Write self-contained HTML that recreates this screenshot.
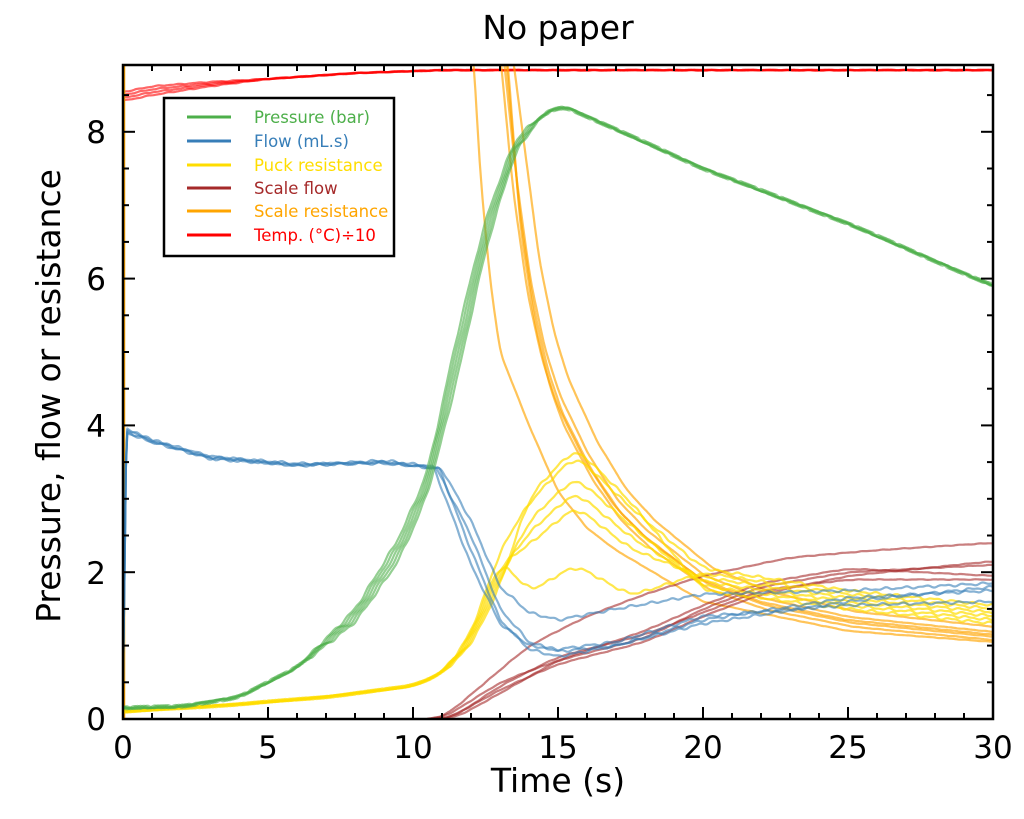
<!DOCTYPE html>
<html><head><meta charset="utf-8"><style>
html,body{margin:0;padding:0;background:#fff;width:1024px;height:819px;overflow:hidden}
svg{display:block;font-family:"DejaVu Sans","Liberation Sans",sans-serif}
</style></head><body>
<svg id="s" width="1024" height="819" viewBox="0 0 1024 819" xmlns="http://www.w3.org/2000/svg">
<defs><clipPath id="c"><rect x="123" y="65" width="870" height="654"/></clipPath></defs>
<text x="558" y="39" font-size="33" text-anchor="middle">No paper</text>
<g id="plot" clip-path="url(#c)" fill="none" stroke-width="2.2" stroke-linejoin="round"></g>
<rect x="123" y="65" width="870" height="654" fill="none" stroke="#000" stroke-width="2.5"/>
<g id="ticks" stroke="#000" stroke-width="2"></g>
<g font-size="31" text-anchor="middle">
<text x="123" y="758">0</text><text x="268" y="758">5</text><text x="413" y="758">10</text><text x="558" y="758">15</text><text x="703" y="758">20</text><text x="848" y="758">25</text><text x="993" y="758">30</text>
</g>
<g font-size="31" text-anchor="end">
<text x="106" y="730">0</text><text x="106" y="584">2</text><text x="106" y="437">4</text><text x="106" y="290">6</text><text x="106" y="143">8</text>
</g>
<text x="558" y="792" font-size="33" text-anchor="middle">Time (s)</text>
<text transform="translate(60,396) rotate(-90)" font-size="33" text-anchor="middle">Pressure, flow or resistance</text>
<rect x="164" y="98" width="230" height="158" fill="#fff" stroke="#000" stroke-width="2.5"/>
<g stroke-width="3">
<line x1="187" y1="117" x2="231" y2="117" stroke="#4daf4a"/>
<line x1="187" y1="141" x2="231" y2="141" stroke="#377eb8"/>
<line x1="187" y1="165" x2="231" y2="165" stroke="#ffdd00"/>
<line x1="187" y1="188" x2="231" y2="188" stroke="#a52a2a"/>
<line x1="187" y1="211" x2="231" y2="211" stroke="#ffa500"/>
<line x1="187" y1="235" x2="231" y2="235" stroke="#ff0000"/>
</g>
<g font-size="16.5">
<text x="254" y="123" fill="#4daf4a">Pressure (bar)</text>
<text x="254" y="147" fill="#377eb8">Flow (mL.s)</text>
<text x="254" y="171" fill="#ffdd00">Puck resistance</text>
<text x="254" y="194" fill="#a52a2a">Scale flow</text>
<text x="254" y="217" fill="#ffa500">Scale resistance</text>
<text x="254" y="241" fill="#ff0000">Temp. (°C)÷10</text>
</g>
</svg>
<script>
function X(t){return 123+t*29}function Y(v){return 719-v*73.4}
var tk=document.getElementById("ticks"),h="";
for(var i=0;i<=30;i++){var L=i%5?6:12;h+='<line x1="'+X(i)+'" y1="719" x2="'+X(i)+'" y2="'+(719-L)+'"/><line x1="'+X(i)+'" y1="65" x2="'+X(i)+'" y2="'+(65+L)+'"/>';}
for(var v=0;v<=8.9;v+=0.5){var L=(v%2)?6:12;h+='<line x1="123" y1="'+Y(v)+'" x2="'+(123+L)+'" y2="'+Y(v)+'"/><line x1="993" y1="'+Y(v)+'" x2="'+(993-L)+'" y2="'+Y(v)+'"/>';}
tk.innerHTML=h;
function lin(p,t){if(t<=p[0][0])return p[0][1];for(var i=1;i<p.length;i++){if(t<=p[i][0]){var a=p[i-1],b=p[i],f=(t-a[0])/(b[0]-a[0]);return a[1]+(b[1]-a[1])*f;}}return p[p.length-1][1];}
var g=document.getElementById("plot"),out="";
function draw(pts,col,op,t0,t1,noise,seed,win){var dt=0.05;win=win||8;var ts=[],vs=[];for(var t=t0;t<=t1+1e-9;t+=dt){ts.push(t);vs.push(lin(pts,t));}
var sm=[];for(var i=0;i<vs.length;i++){var s=0,n=0;for(var j=-win;j<=win;j++){var k=Math.min(vs.length-1,Math.max(0,i+j));var w=win+1-Math.abs(j);s+=vs[k]*w;n+=w;}sm.push(s/n);}
var d="";for(var i=0;i<ts.length;i++){var t=ts[i];var v=sm[i]+noise*(Math.sin(t*9.3+seed)+0.6*Math.sin(t*17.1+seed*2));d+=(d?"L":"M")+X(t).toFixed(1)+","+Y(v).toFixed(1);}out+='<path d="'+d+'" stroke="'+col+'" stroke-opacity="'+op+'"/>';}
for(var k=0;k<4;k++){var o=k*0.04;draw([[0,8.42+o],[1,8.5+o],[3,8.62+o/2],[5,8.72],[8,8.8],[11,8.84],[30,8.84]],"#ff0000",0.6,0,30,0.004,k);}
var main=[[0,9.3],[0.5,7.2],[1,5.8],[1.5,4.9],[2,4.3],[2.5,3.9],[3,3.5],[4,2.9],[5,2.5],[7,1.9],[9,1.6],[12,1.35],[17,1.15]];
function shifted(t0,sc,end){var p=main.map(function(q){return [t0+q[0],q[1]*(q[0]>0?sc:1)];});p.push([30,end]);return p;}
var sr=[shifted(12.95,1.0,1.15),shifted(13.05,1.03,1.2),shifted(13.15,0.97,1.12),shifted(13.35,1.08,1.3),shifted(13.2,0.93,1.05)];
sr.forEach(function(p,k){draw(p,"#ffa500",0.65,p[0][0],30,0.002,k,3);});
var left=[[12.05,9.3],[12.3,7.5],[12.65,6],[13,5],[14,4],[15,3.1],[16,2.6],[17,2.3],[20,1.6],[25,1.2],[30,1.05]];
draw(left,"#ffa500",0.65,12.05,30,0.002,7,3);
out+='<line x1="124" y1="719" x2="124" y2="60" stroke="#ffa500" stroke-width="2.5"/>';
var sf=[[[0,0],[11,0],[13,0.5],[15,0.8],[18,1.1],[20,1.5],[22,1.8],[25,2.0],[30,2.1]],
[[0,0],[11.2,0],[13,0.4],[15,0.75],[18,1.05],[20,1.4],[22,1.7],[25,1.95],[30,2.15]],
[[0,0],[11.4,0],[13,0.35],[15,0.8],[18,1.2],[20,1.55],[22,1.85],[25,2.05],[30,1.95]],
[[0,0],[11,0],[12.5,0.5],[14,1.0],[16,1.4],[18,1.7],[20,1.95],[23,2.2],[26,2.3],[30,2.4]],
[[0,0],[11.3,0],[13,0.45],[15,0.85],[18,1.15],[20,1.45],[22,1.75],[25,1.9],[30,1.9]]];
sf.forEach(function(p,k){draw(p,"#a52a2a",0.6,10.5,30,0.003,k,16);});
var pk=[3.7,3.3,3.1,2.9,2.1,3.6];
pk.forEach(function(pv,k){draw([[0,0.1],[4,0.2],[7,0.3],[10,0.45],[11,0.62],[12,1.0+k*0.03],[13,1.8+k*0.1],[14,pv*0.82],[15.6,pv],[17.5,pv*0.8],[20,1.75+k*0.06],[25,1.5+k*0.05],[30,1.3+k*0.05]],"#ffdd00",0.7,0,30,0.012,k,12);});
var fl=[[[0,0],[0.1,3.95],[1,3.8],[3,3.55],[6,3.46],[9,3.5],[10.8,3.42],[12,2.5],[13,1.5],[14,1.05],[15,0.92],[17,1.0],[20,1.3],[25,1.6],[30,1.8]],
[[0,0],[0.1,3.9],[1,3.78],[3,3.57],[6,3.48],[9,3.48],[10.9,3.42],[12,2.3],[13,1.35],[14,0.95],[15,0.85],[17,1.0],[20,1.35],[25,1.65],[30,1.75]],
[[0,0],[0.1,3.92],[1,3.77],[3,3.55],[6,3.45],[9,3.5],[11,3.4],[12,2.7],[13,1.8],[14,1.45],[15,1.35],[17,1.5],[20,1.7],[25,1.75],[30,1.85]],
[[0,0],[0.1,3.95],[1,3.8],[3,3.58],[6,3.46],[9,3.52],[10.7,3.44],[12,2.1],[13,1.3],[14,1.0],[15,0.95],[17,1.05],[20,1.4],[25,1.55],[30,1.6]]];
fl.forEach(function(p,k){draw(p,"#377eb8",0.6,0,30,0.012,k,1);});
for(var k=0;k<5;k++){var s=k*0.15-0.3;draw([[0,0.15],[2,0.17],[4,0.3],[6,0.7],[8,1.4+s*0.3],[9.5,2.3+s*0.5],[10.5,3.2+s*0.5],[11.5,4.9+s],[12.5,6.6+s*0.7],[13.5,7.8+s*0.3],[14.5,8.25],[15.2,8.35],[20,7.5],[25,6.75],[30,5.9]],"#4daf4a",0.6,0,30,0.015,k,8);}
g.innerHTML=out;
</script>
</body></html>
